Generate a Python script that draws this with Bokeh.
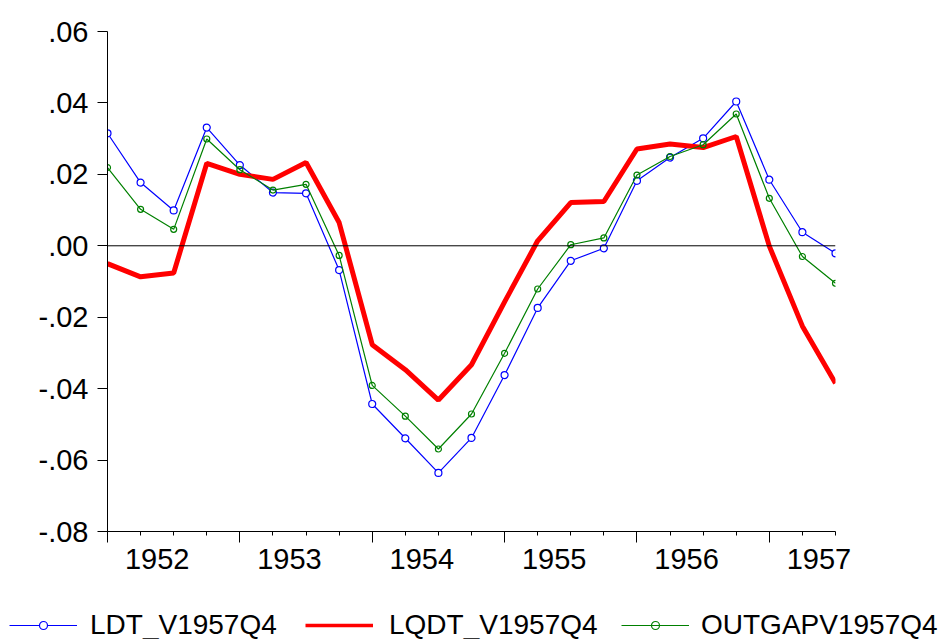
from bokeh.plotting import figure
from bokeh.models import (FixedTicker, LinearAxis, Span, Legend, LegendItem,
                          CustomJSTickFormatter, Range1d)
from bokeh.embed import file_html
from bokeh.resources import INLINE

periods = ["1952Q1", "1952Q2", "1952Q3", "1952Q4",
           "1953Q1", "1953Q2", "1953Q3", "1953Q4",
           "1954Q1", "1954Q2", "1954Q3", "1954Q4",
           "1955Q1", "1955Q2", "1955Q3", "1955Q4",
           "1956Q1", "1956Q2", "1956Q3", "1956Q4",
           "1957Q1", "1957Q2", "1957Q3"]
years = ["1952", "1953", "1954", "1955", "1956", "1957"]

ldt_v1957q4 = [0.0315, 0.0177, 0.0099, 0.0331,
               0.0226, 0.0149, 0.0147, -0.0068,
               -0.0443, -0.0539, -0.0636, -0.0538,
               -0.0362, -0.0174, -0.0042, -0.0007,
               0.0182, 0.0247, 0.0301, 0.0404,
               0.0185, 0.0038, -0.0021]
lqdt_v1957q4 = [-0.0050, -0.0087, -0.0076, 0.0231,
                0.0200, 0.0186, 0.0233, 0.0065,
                -0.0277, -0.0347, -0.0432, -0.0333,
                -0.0157, 0.0014, 0.0121, 0.0124,
                0.0271, 0.0285, 0.0275, 0.0306,
                -0.0001, -0.0225, -0.0385]
outgapv1957q4 = [0.0219, 0.0102, 0.0046, 0.0299,
                 0.0213, 0.0156, 0.0172, -0.0027,
                 -0.0391, -0.0477, -0.0569, -0.0471,
                 -0.0301, -0.0121, 0.0003, 0.0022,
                 0.0198, 0.0250, 0.0283, 0.0369,
                 0.0133, -0.0030, -0.0105]
series_names = ["LDT_V1957Q4", "LQDT_V1957Q4", "OUTGAPV1957Q4"]
y_ticks = [-0.08, -0.06, -0.04, -0.02, 0.0, 0.02, 0.04, 0.06]

x = list(range(len(periods)))
year_starts = [periods.index(y + "Q1") for y in years]
year_mids = [s + 1.5 for s in year_starts]

FONT = "Liberation Sans"
FS = "29px"
LFS = "28px"
BLUE, RED, GREEN = "#0000FF", "#FF0000", "#008000"

MAIN_H = 587
p = figure(width=941, height=MAIN_H, output_backend="svg", toolbar_location=None,
           x_range=Range1d(0, len(periods) - 1), y_range=Range1d(-0.08, 0.06),
           min_border_left=107, min_border_right=106, min_border_top=31,
           min_border_bottom=MAIN_H - 531)
p.outline_line_color = None
p.grid.visible = False

# x axis A: quarter ticks, long ticks at year starts
xa = p.xaxis[0]
xa.ticker = FixedTicker(ticks=year_starts, minor_ticks=x)
xa.major_tick_out = 11
xa.major_tick_in = 0
xa.minor_tick_out = 4
xa.minor_tick_in = 0
xa.major_label_text_font_size = "1px"
xa.major_label_text_alpha = 0
xa.major_label_standoff = 0
xa.axis_line_color = "black"
xa.major_tick_line_color = "black"
xa.minor_tick_line_color = "black"

# x axis B: year labels centred in each year
xb = LinearAxis(ticker=FixedTicker(ticks=year_mids, minor_ticks=[]),
                major_label_overrides={m: y for m, y in zip(year_mids, years)})
xb.axis_line_color = None
xb.major_tick_line_color = None
xb.major_tick_out = 0
xb.major_tick_in = 0
xb.minor_tick_line_color = None
xb.major_label_standoff = 6
xb.major_label_text_font = FONT
xb.major_label_text_font_size = FS
xb.major_label_text_color = "black"
p.add_layout(xb, "below")

ya = p.yaxis[0]
ya.ticker = FixedTicker(ticks=y_ticks, minor_ticks=[])
ya.formatter = CustomJSTickFormatter(code="""
const s = tick.toFixed(2);
return s.replace('0.', '.');
""")
ya.major_tick_out = 10
ya.major_tick_in = 0
ya.minor_tick_line_color = None
ya.major_label_standoff = 9
ya.major_label_text_font = FONT
ya.major_label_text_font_size = FS
ya.major_label_text_color = "black"
ya.axis_line_color = "black"
ya.major_tick_line_color = "black"

p.add_layout(Span(location=0, dimension="width", line_color="black", line_width=1))


def draw(fig, red_width, blue_size, green_size):
    l1 = fig.line(x, ldt_v1957q4, line_color=BLUE, line_width=1.2)
    s1 = fig.scatter(x, ldt_v1957q4, marker="circle", size=blue_size, line_color=BLUE,
                     fill_color="white", line_width=1.2)
    l2 = fig.line(x, lqdt_v1957q4, line_color=RED, line_width=red_width)
    l3 = fig.line(x, outgapv1957q4, line_color=GREEN, line_width=1.2)
    s3 = fig.scatter(x, outgapv1957q4, marker="circle", size=green_size, line_color=GREEN,
                     fill_color=None, line_width=1.2)
    return [[l1, s1], [l2], [l3, s3]]


draw(p, 5, 7, 6)

# legend strip below the chart (its copies of the series lie outside its view)
lf = figure(width=941, height=639 - MAIN_H, output_backend="svg",
            toolbar_location=None, x_range=Range1d(1000, 1001),
            y_range=Range1d(1000, 1001), min_border=0,
            x_axis_location=None, y_axis_location=None)
lf.grid.visible = False
lf.outline_line_color = None
rends = draw(lf, 3.5, 6, 5)
legend_x = [9, 305, 621]
standoffs = [13, 16, 12]
for name, r, lx, so in zip(series_names, rends, legend_x, standoffs):
    lg = Legend(items=[LegendItem(label=name, renderers=r)],
                orientation="horizontal", location=(lx, -2),
                glyph_width=68, glyph_height=20, label_standoff=so, spacing=0,
                padding=0, margin=0, border_line_color=None,
                background_fill_alpha=0,
                label_text_font=FONT, label_text_font_size=LFS,
                label_text_color="black")
    lf.add_layout(lg, "center")

open("out.html", "w").write(file_html([p, lf], INLINE))
